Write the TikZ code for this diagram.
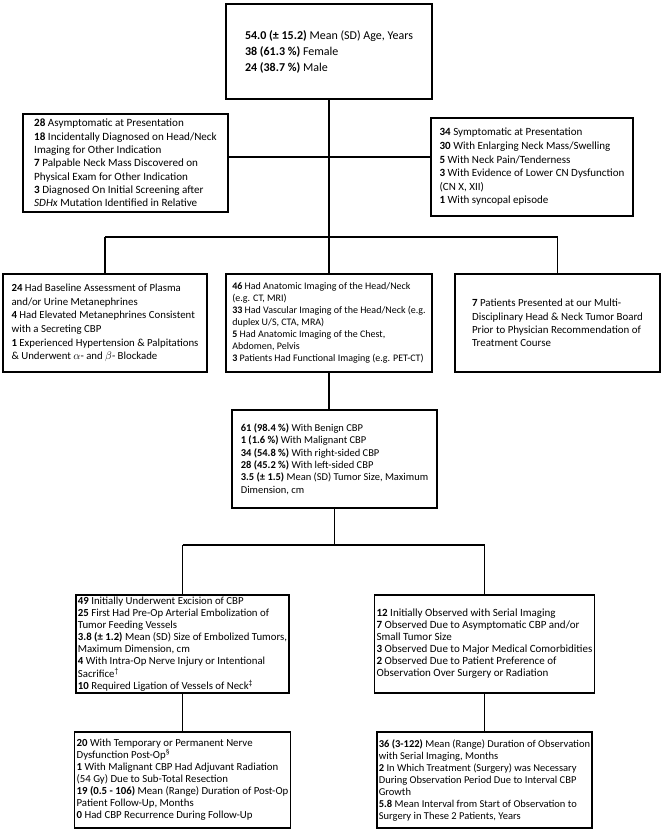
\documentclass[tikz,border=0pt]{standalone}
\usepackage{fontspec}
\setmainfont{Carlito}

\tikzset{
  box/.style={draw,line width=1.5pt,align=left,inner sep=2pt,
    minimum width=205pt,minimum height=98pt},
  link/.style={line width=1.2pt}
}

\begin{document}
\begin{tikzpicture}[x=1pt,y=-1pt]
    \useasboundingbox (0,0) rectangle (663,833);

    \node[box,minimum width=206pt,minimum height=95pt,
      font=\fontsize{12}{16}\selectfont] (demo) at (329,51.5)
      {\textbf{54.0 (± 15.2)} Mean (SD) Age, Years\\
       \textbf{38 (61.3 \%)} Female\\
       \textbf{24 (38.7 \%)} Male};

    \node[box,font=\fontsize{11.1}{13.3}\selectfont] (asym) at (125.5,163)
      {\textbf{28} Asymptomatic at Presentation\\
       \textbf{18} Incidentally Diagnosed on Head/Neck\\
       Imaging for Other Indication\\
       \textbf{7} Palpable Neck Mass Discovered on\\
       Physical Exam for Other Indication\\
       \textbf{3} Diagnosed On Initial Screening after\\
       \textit{SDHx} Mutation Identified in Relative};
    \node[box,minimum width=202pt,font=\fontsize{11}{13.6}\selectfont] (sym) at (532,167)
      {\textbf{34} Symptomatic at Presentation\\
       \textbf{30} With Enlarging Neck Mass/Swelling\\
       \textbf{5} With Neck Pain/Tenderness\\
       \textbf{3} With Evidence of Lower CN Dysfunction\\
       (CN X, XII)\\
       \textbf{1} With syncopal episode};

    \node[box,minimum width=204pt,font=\fontsize{10.8}{13.6}\selectfont] (labs) at (105,323)
      {\textbf{24} Had Baseline Assessment of Plasma\\
       and/or Urine Metanephrines\\
       \textbf{4} Had Elevated Metanephrines Consistent\\
       with a Secreting CBP\\
       \textbf{1} Experienced Hypertension \& Palpitations\\
       \& Underwent $\alpha$- and $\beta$- Blockade};
    \node[box,minimum width=206pt,font=\fontsize{10}{12}\selectfont] (imaging) at (329,323)
      {\textbf{46} Had Anatomic Imaging of the Head/Neck\\
       (e.g. CT, MRI)\\
       \textbf{33} Had Vascular Imaging of the Head/Neck (e.g.\\
       duplex U/S, CTA, MRA)\\
       \textbf{5} Had Anatomic Imaging of the Chest,\\
       Abdomen, Pelvis\\
       \textbf{3} Patients Had Functional Imaging (e.g. PET-CT)};
    \node[box,font=\fontsize{10.9}{13.3}\selectfont] (board) at (557.5,323)
      {\textbf{7} Patients Presented at our Multi-\\
       Disciplinary Head \& Neck Tumor Board\\
       Prior to Physician Recommendation of\\
       Treatment Course};

    \node[box,font=\fontsize{10.5}{12.4}\selectfont] (tumor) at (334.5,459)
      {\textbf{61 (98.4 \%)} With Benign CBP\\
       \textbf{1 (1.6 \%)} With Malignant CBP\\
       \textbf{34 (54.8 \%)} With right-sided CBP\\
       \textbf{28 (45.2 \%)} With left-sided CBP\\
       \textbf{3.5 (± 1.5)} Mean (SD) Tumor Size, Maximum\\
       Dimension, cm};

    \node[box,font=\fontsize{10.8}{12.1}\selectfont] (excision) at (182.5,644)
      {\textbf{49} Initially Underwent Excision of CBP\\
       \textbf{25} First Had Pre-Op Arterial Embolization of\\
       Tumor Feeding Vessels\\
       \textbf{3.8 (± 1.2)} Mean (SD) Size of Embolized Tumors,\\
       Maximum Dimension, cm\\
       \textbf{4} With Intra-Op Nerve Injury or Intentional\\
       Sacrifice\textsuperscript{†}\\
       \textbf{10} Required Ligation of Vessels of Neck\textsuperscript{‡}};
    \node[box,font=\fontsize{11}{12}\selectfont] (observe) at (484.5,644)
      {\textbf{12} Initially Observed with Serial Imaging\\
       \textbf{7} Observed Due to Asymptomatic CBP and/or\\
       Small Tumor Size\\
       \textbf{3} Observed Due to Major Medical Comorbidities\\
       \textbf{2} Observed Due to Patient Preference of\\
       Observation Over Surgery or Radiation};

    \node[box,minimum height=96pt,font=\fontsize{10.8}{12}\selectfont] (postop) at (182.5,780)
      {\textbf{20} With Temporary or Permanent Nerve\\
       Dysfunction Post-Op\textsuperscript{§}\\
       \textbf{1} With Malignant CBP Had Adjuvant Radiation\\
       (54 Gy) Due to Sub-Total Resection\\
       \textbf{19 (0.5 - 106)} Mean (Range) Duration of Post-Op\\
       Patient Follow-Up, Months\\
       \textbf{0} Had CBP Recurrence During Follow-Up};
    \node[box,minimum height=96pt,font=\fontsize{10.5}{12}\selectfont] (followobs) at (484.5,780)
      {\textbf{36 (3-122)} Mean (Range) Duration of Observation\\
       with Serial Imaging, Months\\
       \textbf{2} In Which Treatment (Surgery) was Necessary\\
       During Observation Period Due to Interval CBP\\
       Growth\\
       \textbf{5.8} Mean Interval from Start of Observation to\\
       Surgery in These 2 Patients, Years};

    % junctions
    \coordinate (split) at (329,157);
    \coordinate (fan) at (329,237);
    \coordinate (branch) at (334.5,545);

    \draw[link] (demo.south) -- (fan);
    \draw[link] (asym.east |- split) -- (sym.west |- split);
    \draw[link] (labs.north |- fan) -- (board.north |- fan);
    \foreach \n in {labs,imaging,board} \draw[link] (\n.north |- fan) -- (\n.north);
    \draw[link] (imaging.south) -- (imaging.south |- tumor.north);
    \draw[link] (tumor.south) -- (branch);
    \draw[link] (excision.north |- branch) -- (observe.north |- branch);
    \foreach \n in {excision,observe} \draw[link] (\n.north |- branch) -- (\n.north);
    \draw[link] (excision.south) -- (postop.north);
    \draw[link] (observe.south) -- (followobs.north);
  \end{tikzpicture}
\end{document}
